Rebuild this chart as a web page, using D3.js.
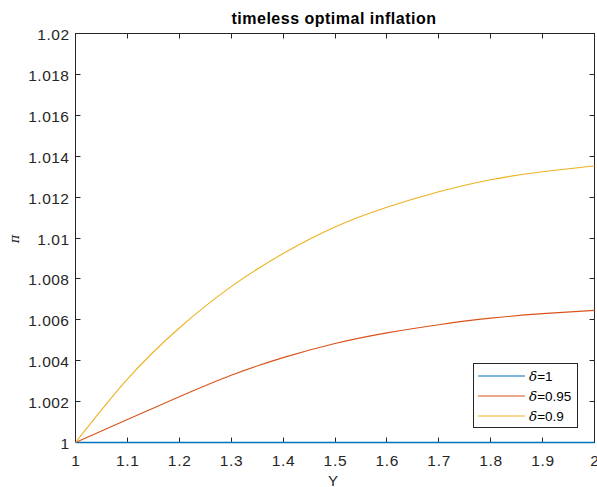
<!DOCTYPE html>
<html>
<head>
<meta charset="utf-8">
<script src="https://cdn.jsdelivr.net/npm/d3@7"></script>
<style>
  body { margin: 0; background: #fff; }
  text { font-family: "Liberation Sans", Arial, sans-serif; fill: #262626; }
</style>
</head>
<body>
<svg width="597" height="487"></svg>
<script>
;(function (d3) {
  var svg = d3.select('svg')

  // data
  var yVals = [1, 1.1, 1.2, 1.3, 1.4, 1.5, 1.6, 1.7, 1.8, 1.9, 2]
  var pi1 = [1, 1, 1, 1, 1, 1, 1, 1, 1, 1, 1]
  var pi095 = [1, 1.00113, 1.00224, 1.00329, 1.00415, 1.00484, 1.00536, 1.00576, 1.00608, 1.0063, 1.00646]
  var pi09 = [1, 1.0031, 1.0056, 1.00762, 1.00924, 1.01054, 1.0115, 1.01226, 1.01285, 1.01324, 1.01352]
  var seriesNames = ['1', '0.95', '0.9']
  var xTicks = [1, 1.1, 1.2, 1.3, 1.4, 1.5, 1.6, 1.7, 1.8, 1.9, 2]
  var yTicks = [1, 1.002, 1.004, 1.006, 1.008, 1.01, 1.012, 1.014, 1.016, 1.018, 1.02]

  var colors = ['#0072BD', '#D95319', '#EDB120']
  var series = [pi1, pi095, pi09]

  var left = 75.5
  var right = 594.5
  var top = 33.5
  var bottom = 442.5

  var x = d3.scaleLinear().domain([1, 2]).range([left, right])
  var y = d3.scaleLinear().domain([1, 1.02]).range([bottom, top])

  var ln = d3.line()
    .x(function (d, i) { return x(yVals[i]) })
    .y(function (d) { return y(d) })
    .curve(d3.curveNatural)

  // box
  svg.append('rect')
    .attr('x', left).attr('y', top)
    .attr('width', right - left).attr('height', bottom - top)
    .style('fill', 'none')
    .style('stroke', '#262626')
    .style('stroke-width', 1)

  var tk = 5
  var fmt = function (d) { return String(+d.toFixed(3)) }

  // x ticks (bottom + top, inward)
  var gx = svg.append('g')
  xTicks.forEach(function (t) {
    var px = Math.round(x(t) - 0.5) + 0.5
    gx.append('line').attr('x1', px).attr('x2', px).attr('y1', bottom).attr('y2', bottom - tk)
      .style('stroke', '#262626')
    gx.append('line').attr('x1', px).attr('x2', px).attr('y1', top).attr('y2', top + tk)
      .style('stroke', '#262626')
    gx.append('text').attr('x', x(t) + 0.4).attr('y', 466)
      .attr('text-anchor', 'middle').style('font-size', '15.5px').style('letter-spacing', '0.7px')
      .text(fmt(t))
  })

  // y ticks (left + right, inward)
  var gy = svg.append('g')
  yTicks.forEach(function (t) {
    var py = Math.round(y(t) - 0.5) + 0.5
    gy.append('line').attr('x1', left).attr('x2', left + tk).attr('y1', py).attr('y2', py)
      .style('stroke', '#262626')
    gy.append('line').attr('x1', right).attr('x2', right - tk).attr('y1', py).attr('y2', py)
      .style('stroke', '#262626')
    gy.append('text').attr('x', 69.5).attr('y', y(t) + 6.5)
      .attr('text-anchor', 'end').style('font-size', '15.5px').style('letter-spacing', '0.5px')
      .text(fmt(t))
  })

  // plot lines (over the box so the δ=1 line shows on the bottom edge)
  svg.append('g')
    .selectAll('path')
    .data(series)
    .enter()
    .append('path')
    .attr('d', ln)
    .style('fill', 'none')
    .style('stroke', function (d, i) { return colors[i] })
    .style('stroke-width', function (d, i) { return i === 0 ? 1.5 : 1.1 })

  // title and axis labels
  svg.append('text').attr('x', (left + right) / 2 - 1).attr('y', 24)
    .attr('text-anchor', 'middle')
    .style('font-size', '16px').style('font-weight', 'bold').style('letter-spacing', '0.5px').style('fill', '#000')
    .text('timeless optimal inflation')

  svg.append('text').attr('x', 333).attr('y', 485.5)
    .attr('text-anchor', 'middle').style('font-size', '15px')
    .text('Y')

  svg.append('text')
    .attr('transform', 'translate(19,239) rotate(-90)')
    .attr('text-anchor', 'middle')
    .style('font-size', '13px').style('font-family', '"DejaVu Serif", serif').style('font-style', 'italic')
    .text('π')

  // legend
  var lg = svg.append('g')
  lg.append('rect')
    .attr('x', 473.5).attr('y', 363.5).attr('width', 104).attr('height', 64)
    .style('fill', '#fff').style('stroke', '#262626').style('stroke-width', 1)

  seriesNames.forEach(function (name, i) {
    var ry = 376 + i * 20
    lg.append('line').attr('x1', 478).attr('x2', 525).attr('y1', ry).attr('y2', ry)
      .style('stroke', colors[i]).style('stroke-width', 1.1)
    var t = lg.append('text').attr('x', 529).attr('y', ry + 5).style('font-size', '13.5px').style('fill', '#000')
    t.append('tspan').style('font-family', '"DejaVu Serif", serif').style('font-style', 'italic').text('δ')
    t.append('tspan').text('=' + name)
  })
})(window.d3)
</script>
</body>
</html>
